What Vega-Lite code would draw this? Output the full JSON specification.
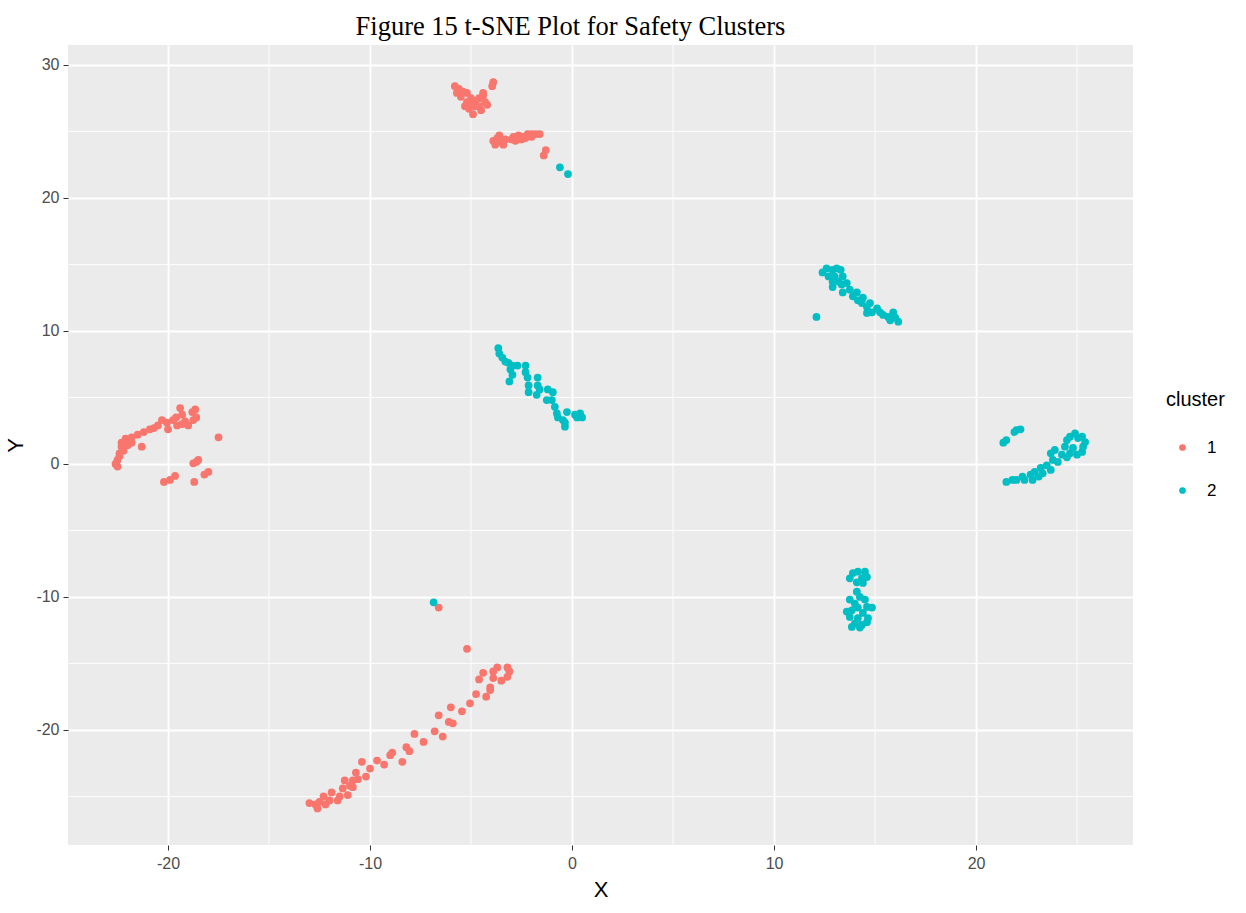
{
  "$schema": "https://vega.github.io/schema/vega-lite/v6.json",
  "width": 1065,
  "height": 800,
  "autosize": "none",
  "padding": {"left": 68, "top": 45, "right": 113, "bottom": 68},
  "background": "white",
  "title": {"text": "Figure 15 t-SNE Plot for Safety Clusters", "font": "Liberation Serif", "fontSize": 26.5, "fontWeight": "normal", "color": "#000000", "anchor": "middle", "dx": -30, "offset": 4},
  "config": {
    "view": {"fill": "#EBEBEB", "stroke": null},
    "axis": {"labelFont": "Liberation Sans", "titleFont": "Liberation Sans", "labelColor": "#4D4D4D", "titleColor": "#000000", "labelFontSize": 16, "titleFontSize": 22, "titleFontWeight": "normal", "tickColor": "#333333", "tickSize": 5, "domain": false, "gridColor": "#FFFFFF", "gridWidth": 1.8, "gridOpacity": 1, "labelExpr": "toString(datum.value)"},
    "legend": {"labelFont": "Liberation Sans", "titleFont": "Liberation Sans"}
  },
  "datasets": {
    "gx": [{"X": -15}, {"X": -5}, {"X": 5}, {"X": 15}, {"X": 25}],
    "gy": [{"Y": 25}, {"Y": 15}, {"Y": 5}, {"Y": -5}, {"Y": -15}, {"Y": -25}],
    "pts": [
      {"X": -5.8, "Y": 28.4, "cluster": "1"}, {"X": -5.6, "Y": 28.2, "cluster": "1"}, {"X": -5.4, "Y": 28.0, "cluster": "1"}, {"X": -5.2, "Y": 27.9, "cluster": "1"}, {"X": -5.5, "Y": 27.6, "cluster": "1"}, {"X": -5.0, "Y": 27.5, "cluster": "1"}, {"X": -4.8, "Y": 27.3, "cluster": "1"}, {"X": -4.6, "Y": 27.5, "cluster": "1"}, {"X": -4.4, "Y": 27.7, "cluster": "1"}, {"X": -4.3, "Y": 27.2, "cluster": "1"}, {"X": -4.8, "Y": 26.9, "cluster": "1"}, {"X": -5.1, "Y": 26.7, "cluster": "1"}, {"X": -4.5, "Y": 26.6, "cluster": "1"}, {"X": -4.9, "Y": 26.3, "cluster": "1"}, {"X": -5.3, "Y": 26.9, "cluster": "1"}, {"X": -4.2, "Y": 27.0, "cluster": "1"}, {"X": -4.6, "Y": 26.9, "cluster": "1"}, {"X": -5.2, "Y": 27.2, "cluster": "1"}, {"X": -4.95, "Y": 27.1, "cluster": "1"}, {"X": -4.4, "Y": 27.9, "cluster": "1"}, {"X": -5.7, "Y": 27.9, "cluster": "1"},
      {"X": -3.9, "Y": 28.7, "cluster": "1"}, {"X": -3.95, "Y": 28.4, "cluster": "1"},
      {"X": -3.9, "Y": 24.3, "cluster": "1"}, {"X": -3.7, "Y": 24.5, "cluster": "1"}, {"X": -3.5, "Y": 24.2, "cluster": "1"}, {"X": -3.8, "Y": 24.0, "cluster": "1"}, {"X": -3.4, "Y": 24.0, "cluster": "1"}, {"X": -3.6, "Y": 24.7, "cluster": "1"}, {"X": -3.3, "Y": 24.4, "cluster": "1"},
      {"X": -2.9, "Y": 24.6, "cluster": "1"}, {"X": -2.65, "Y": 24.7, "cluster": "1"}, {"X": -2.45, "Y": 24.6, "cluster": "1"}, {"X": -2.2, "Y": 24.8, "cluster": "1"}, {"X": -2.0, "Y": 24.8, "cluster": "1"}, {"X": -1.8, "Y": 24.8, "cluster": "1"}, {"X": -1.6, "Y": 24.8, "cluster": "1"}, {"X": -2.5, "Y": 24.4, "cluster": "1"}, {"X": -2.3, "Y": 24.5, "cluster": "1"}, {"X": -2.8, "Y": 24.3, "cluster": "1"}, {"X": -2.0, "Y": 24.6, "cluster": "1"}, {"X": -3.0, "Y": 24.4, "cluster": "1"},
      {"X": -1.3, "Y": 23.6, "cluster": "1"}, {"X": -1.4, "Y": 23.2, "cluster": "1"},
      {"X": -0.6, "Y": 22.3, "cluster": "2"}, {"X": -0.2, "Y": 21.8, "cluster": "2"},
      {"X": -22.5, "Y": -0.2, "cluster": "1"}, {"X": -22.5, "Y": 0.3, "cluster": "1"}, {"X": -22.4, "Y": 0.8, "cluster": "1"}, {"X": -22.3, "Y": 1.3, "cluster": "1"}, {"X": -22.1, "Y": 1.9, "cluster": "1"}, {"X": -22.0, "Y": 1.7, "cluster": "1"}, {"X": -21.8, "Y": 2.0, "cluster": "1"}, {"X": -21.5, "Y": 2.2, "cluster": "1"}, {"X": -21.3, "Y": 1.3, "cluster": "1"}, {"X": -21.2, "Y": 2.4, "cluster": "1"}, {"X": -20.9, "Y": 2.6, "cluster": "1"}, {"X": -20.5, "Y": 2.9, "cluster": "1"}, {"X": -20.3, "Y": 3.3, "cluster": "1"}, {"X": -20.05, "Y": 3.1, "cluster": "1"}, {"X": -20.0, "Y": 2.6, "cluster": "1"}, {"X": -19.75, "Y": 3.3, "cluster": "1"}, {"X": -19.55, "Y": 2.9, "cluster": "1"}, {"X": -19.4, "Y": 4.2, "cluster": "1"}, {"X": -19.3, "Y": 3.7, "cluster": "1"}, {"X": -19.15, "Y": 3.2, "cluster": "1"}, {"X": -19.0, "Y": 2.9, "cluster": "1"}, {"X": -18.75, "Y": 3.3, "cluster": "1"}, {"X": -18.65, "Y": 4.1, "cluster": "1"}, {"X": -18.6, "Y": 3.5, "cluster": "1"}, {"X": -17.5, "Y": 2.0, "cluster": "1"}, {"X": -18.75, "Y": 0.05, "cluster": "1"}, {"X": -18.5, "Y": 0.3, "cluster": "1"}, {"X": -18.6, "Y": 0.15, "cluster": "1"}, {"X": -18.2, "Y": -0.8, "cluster": "1"}, {"X": -18.0, "Y": -0.6, "cluster": "1"}, {"X": -18.7, "Y": -1.35, "cluster": "1"}, {"X": -20.2, "Y": -1.35, "cluster": "1"}, {"X": -19.9, "Y": -1.2, "cluster": "1"}, {"X": -19.65, "Y": -0.9, "cluster": "1"}, {"X": -22.4, "Y": 0.6, "cluster": "1"}, {"X": -22.2, "Y": 1.0, "cluster": "1"}, {"X": -22.0, "Y": 1.4, "cluster": "1"}, {"X": -21.8, "Y": 1.6, "cluster": "1"}, {"X": -22.6, "Y": 0.0, "cluster": "1"}, {"X": -22.3, "Y": 1.6, "cluster": "1"}, {"X": -20.7, "Y": 2.7, "cluster": "1"}, {"X": -19.6, "Y": 3.5, "cluster": "1"}, {"X": -19.3, "Y": 3.0, "cluster": "1"}, {"X": -18.8, "Y": 3.9, "cluster": "1"},
      {"X": -6.6, "Y": -10.8, "cluster": "1"}, {"X": -6.85, "Y": -10.4, "cluster": "2"}, {"X": -5.2, "Y": -13.9, "cluster": "1"},
      {"X": -3.7, "Y": -15.3, "cluster": "1"}, {"X": -3.2, "Y": -15.3, "cluster": "1"}, {"X": -3.1, "Y": -15.6, "cluster": "1"}, {"X": -3.9, "Y": -15.6, "cluster": "1"}, {"X": -3.9, "Y": -16.1, "cluster": "1"}, {"X": -3.5, "Y": -16.3, "cluster": "1"}, {"X": -3.2, "Y": -16.0, "cluster": "1"}, {"X": -4.4, "Y": -15.7, "cluster": "1"}, {"X": -4.6, "Y": -16.2, "cluster": "1"}, {"X": -4.05, "Y": -16.8, "cluster": "1"}, {"X": -4.05, "Y": -17.0, "cluster": "1"}, {"X": -4.75, "Y": -17.3, "cluster": "1"}, {"X": -4.25, "Y": -17.5, "cluster": "1"}, {"X": -5.05, "Y": -18.0, "cluster": "1"}, {"X": -5.45, "Y": -18.6, "cluster": "1"}, {"X": -6.0, "Y": -18.3, "cluster": "1"}, {"X": -6.1, "Y": -19.4, "cluster": "1"}, {"X": -5.9, "Y": -19.5, "cluster": "1"}, {"X": -6.6, "Y": -18.9, "cluster": "1"}, {"X": -6.4, "Y": -20.5, "cluster": "1"}, {"X": -6.8, "Y": -20.1, "cluster": "1"}, {"X": -7.35, "Y": -20.9, "cluster": "1"}, {"X": -7.8, "Y": -20.3, "cluster": "1"}, {"X": -8.2, "Y": -21.3, "cluster": "1"}, {"X": -8.05, "Y": -21.6, "cluster": "1"}, {"X": -8.4, "Y": -22.4, "cluster": "1"}, {"X": -8.9, "Y": -21.7, "cluster": "1"}, {"X": -9.0, "Y": -21.9, "cluster": "1"}, {"X": -9.3, "Y": -22.6, "cluster": "1"}, {"X": -9.65, "Y": -22.3, "cluster": "1"}, {"X": -10.0, "Y": -22.9, "cluster": "1"}, {"X": -10.2, "Y": -23.5, "cluster": "1"}, {"X": -10.4, "Y": -22.4, "cluster": "1"}, {"X": -10.7, "Y": -23.2, "cluster": "1"}, {"X": -10.85, "Y": -23.8, "cluster": "1"}, {"X": -10.85, "Y": -24.3, "cluster": "1"}, {"X": -11.25, "Y": -23.8, "cluster": "1"}, {"X": -11.35, "Y": -24.4, "cluster": "1"}, {"X": -11.5, "Y": -25.0, "cluster": "1"}, {"X": -11.9, "Y": -24.7, "cluster": "1"}, {"X": -12.0, "Y": -25.3, "cluster": "1"}, {"X": -12.3, "Y": -25.0, "cluster": "1"}, {"X": -12.5, "Y": -25.4, "cluster": "1"}, {"X": -12.7, "Y": -25.6, "cluster": "1"}, {"X": -13.0, "Y": -25.5, "cluster": "1"}, {"X": -12.6, "Y": -25.9, "cluster": "1"}, {"X": -12.2, "Y": -25.6, "cluster": "1"}, {"X": -11.6, "Y": -25.3, "cluster": "1"}, {"X": -11.1, "Y": -24.9, "cluster": "1"}, {"X": -11.0, "Y": -24.2, "cluster": "1"}, {"X": -10.6, "Y": -23.7, "cluster": "1"},
      {"X": -3.65, "Y": 8.7, "cluster": "2"}, {"X": -3.6, "Y": 8.3, "cluster": "2"}, {"X": -3.45, "Y": 8.0, "cluster": "2"}, {"X": -3.3, "Y": 7.7, "cluster": "2"}, {"X": -3.15, "Y": 7.6, "cluster": "2"}, {"X": -2.95, "Y": 7.4, "cluster": "2"}, {"X": -2.7, "Y": 7.4, "cluster": "2"}, {"X": -3.05, "Y": 7.1, "cluster": "2"}, {"X": -2.95, "Y": 6.7, "cluster": "2"}, {"X": -3.1, "Y": 6.2, "cluster": "2"}, {"X": -2.3, "Y": 7.4, "cluster": "2"}, {"X": -2.3, "Y": 6.9, "cluster": "2"}, {"X": -2.2, "Y": 6.5, "cluster": "2"}, {"X": -2.15, "Y": 5.9, "cluster": "2"}, {"X": -2.15, "Y": 5.4, "cluster": "2"}, {"X": -1.7, "Y": 6.5, "cluster": "2"}, {"X": -1.7, "Y": 5.9, "cluster": "2"}, {"X": -1.6, "Y": 5.6, "cluster": "2"}, {"X": -1.75, "Y": 5.2, "cluster": "2"}, {"X": -1.2, "Y": 5.6, "cluster": "2"}, {"X": -0.95, "Y": 5.4, "cluster": "2"}, {"X": -1.25, "Y": 4.8, "cluster": "2"}, {"X": -1.0, "Y": 4.8, "cluster": "2"}, {"X": -0.85, "Y": 4.3, "cluster": "2"}, {"X": -0.75, "Y": 3.8, "cluster": "2"}, {"X": -0.7, "Y": 3.5, "cluster": "2"}, {"X": -0.45, "Y": 3.3, "cluster": "2"}, {"X": -0.25, "Y": 3.9, "cluster": "2"}, {"X": -0.35, "Y": 2.8, "cluster": "2"}, {"X": -0.35, "Y": 3.1, "cluster": "2"}, {"X": 0.15, "Y": 3.7, "cluster": "2"}, {"X": 0.4, "Y": 3.8, "cluster": "2"}, {"X": 0.5, "Y": 3.5, "cluster": "2"}, {"X": 0.25, "Y": 3.5, "cluster": "2"},
      {"X": 12.1, "Y": 11.05, "cluster": "2"}, {"X": 12.4, "Y": 14.4, "cluster": "2"}, {"X": 12.6, "Y": 14.7, "cluster": "2"}, {"X": 12.9, "Y": 14.6, "cluster": "2"}, {"X": 13.1, "Y": 14.7, "cluster": "2"}, {"X": 13.3, "Y": 14.6, "cluster": "2"}, {"X": 12.7, "Y": 14.1, "cluster": "2"}, {"X": 12.9, "Y": 13.7, "cluster": "2"}, {"X": 13.0, "Y": 14.1, "cluster": "2"}, {"X": 13.2, "Y": 13.7, "cluster": "2"}, {"X": 13.4, "Y": 14.1, "cluster": "2"}, {"X": 12.9, "Y": 13.3, "cluster": "2"}, {"X": 13.35, "Y": 13.5, "cluster": "2"}, {"X": 13.6, "Y": 13.6, "cluster": "2"}, {"X": 13.4, "Y": 12.9, "cluster": "2"}, {"X": 13.75, "Y": 13.1, "cluster": "2"}, {"X": 13.9, "Y": 12.6, "cluster": "2"}, {"X": 14.1, "Y": 12.9, "cluster": "2"}, {"X": 14.15, "Y": 12.3, "cluster": "2"}, {"X": 14.35, "Y": 12.1, "cluster": "2"}, {"X": 14.6, "Y": 11.8, "cluster": "2"}, {"X": 14.75, "Y": 12.1, "cluster": "2"}, {"X": 14.85, "Y": 11.4, "cluster": "2"}, {"X": 15.1, "Y": 11.7, "cluster": "2"}, {"X": 15.25, "Y": 11.4, "cluster": "2"}, {"X": 15.4, "Y": 11.2, "cluster": "2"}, {"X": 15.65, "Y": 11.05, "cluster": "2"}, {"X": 15.9, "Y": 11.4, "cluster": "2"}, {"X": 16.0, "Y": 11.0, "cluster": "2"}, {"X": 16.15, "Y": 10.7, "cluster": "2"}, {"X": 15.75, "Y": 10.8, "cluster": "2"}, {"X": 14.4, "Y": 12.5, "cluster": "2"}, {"X": 14.6, "Y": 11.35, "cluster": "2"},
      {"X": 21.35, "Y": 1.6, "cluster": "2"}, {"X": 21.5, "Y": 1.8, "cluster": "2"}, {"X": 21.9, "Y": 2.4, "cluster": "2"}, {"X": 22.2, "Y": 2.6, "cluster": "2"}, {"X": 22.0, "Y": 2.55, "cluster": "2"}, {"X": 21.5, "Y": -1.35, "cluster": "2"}, {"X": 21.8, "Y": -1.2, "cluster": "2"}, {"X": 22.0, "Y": -1.2, "cluster": "2"}, {"X": 22.3, "Y": -0.95, "cluster": "2"}, {"X": 22.4, "Y": -1.2, "cluster": "2"}, {"X": 22.7, "Y": -0.8, "cluster": "2"}, {"X": 22.8, "Y": -1.2, "cluster": "2"}, {"X": 22.9, "Y": -0.6, "cluster": "2"}, {"X": 23.1, "Y": -0.95, "cluster": "2"}, {"X": 23.2, "Y": -0.3, "cluster": "2"}, {"X": 23.3, "Y": -0.7, "cluster": "2"}, {"X": 23.5, "Y": -0.1, "cluster": "2"}, {"X": 23.7, "Y": -0.45, "cluster": "2"}, {"X": 23.7, "Y": 0.8, "cluster": "2"}, {"X": 23.8, "Y": 0.3, "cluster": "2"}, {"X": 23.9, "Y": 1.05, "cluster": "2"}, {"X": 24.05, "Y": 0.15, "cluster": "2"}, {"X": 24.25, "Y": 0.7, "cluster": "2"}, {"X": 24.4, "Y": 1.3, "cluster": "2"}, {"X": 24.5, "Y": 1.8, "cluster": "2"}, {"X": 24.65, "Y": 2.05, "cluster": "2"}, {"X": 24.9, "Y": 2.3, "cluster": "2"}, {"X": 25.05, "Y": 1.95, "cluster": "2"}, {"X": 25.25, "Y": 2.05, "cluster": "2"}, {"X": 25.4, "Y": 1.65, "cluster": "2"}, {"X": 25.3, "Y": 1.3, "cluster": "2"}, {"X": 25.25, "Y": 0.9, "cluster": "2"}, {"X": 25.0, "Y": 0.7, "cluster": "2"}, {"X": 24.8, "Y": 1.2, "cluster": "2"}, {"X": 24.65, "Y": 0.8, "cluster": "2"}, {"X": 24.5, "Y": 0.5, "cluster": "2"},
      {"X": 13.75, "Y": -8.6, "cluster": "2"}, {"X": 13.9, "Y": -8.2, "cluster": "2"}, {"X": 14.15, "Y": -8.1, "cluster": "2"}, {"X": 14.5, "Y": -8.1, "cluster": "2"}, {"X": 14.35, "Y": -8.6, "cluster": "2"}, {"X": 14.6, "Y": -8.5, "cluster": "2"}, {"X": 14.4, "Y": -8.95, "cluster": "2"}, {"X": 14.1, "Y": -8.9, "cluster": "2"}, {"X": 14.1, "Y": -9.6, "cluster": "2"}, {"X": 14.25, "Y": -10.0, "cluster": "2"}, {"X": 13.75, "Y": -10.2, "cluster": "2"}, {"X": 14.0, "Y": -10.5, "cluster": "2"}, {"X": 14.5, "Y": -10.2, "cluster": "2"}, {"X": 14.15, "Y": -10.8, "cluster": "2"}, {"X": 13.6, "Y": -11.1, "cluster": "2"}, {"X": 13.85, "Y": -11.0, "cluster": "2"}, {"X": 14.6, "Y": -10.75, "cluster": "2"}, {"X": 14.85, "Y": -10.8, "cluster": "2"}, {"X": 14.4, "Y": -11.2, "cluster": "2"}, {"X": 13.75, "Y": -11.5, "cluster": "2"}, {"X": 14.15, "Y": -11.6, "cluster": "2"}, {"X": 14.65, "Y": -11.6, "cluster": "2"}, {"X": 14.0, "Y": -12.0, "cluster": "2"}, {"X": 14.35, "Y": -12.1, "cluster": "2"}, {"X": 13.85, "Y": -12.25, "cluster": "2"}, {"X": 14.25, "Y": -12.3, "cluster": "2"}, {"X": 14.6, "Y": -11.9, "cluster": "2"}
    ]
  },
  "layer": [
    {
      "data": {"name": "gx"},
      "mark": {"type": "rule", "color": "#FFFFFF", "strokeWidth": 0.9},
      "encoding": {
        "x": {"field": "X", "type": "quantitative", "scale": {"domain": [-24.95, 27.77], "nice": false, "zero": false}}
      }
    },
    {
      "data": {"name": "gy"},
      "mark": {"type": "rule", "color": "#FFFFFF", "strokeWidth": 0.9},
      "encoding": {
        "y": {"field": "Y", "type": "quantitative", "scale": {"domain": [-28.65, 31.5], "nice": false, "zero": false}}
      }
    },
    {
      "data": {"name": "pts"},
      "mark": {"type": "point", "filled": true, "size": 60, "opacity": 1, "strokeWidth": 0},
      "encoding": {
        "x": {"field": "X", "type": "quantitative", "scale": {"domain": [-24.95, 27.77], "nice": false, "zero": false}, "axis": {"title": "X", "values": [-20, -10, 0, 10, 20], "labelPadding": 5, "titlePadding": 8}},
        "y": {"field": "Y", "type": "quantitative", "scale": {"domain": [-28.65, 31.5], "nice": false, "zero": false}, "axis": {"title": "Y", "values": [-20, -10, 0, 10, 20, 30], "labelPadding": 4, "titlePadding": 8}},
        "color": {"field": "cluster", "type": "nominal", "scale": {"domain": ["1", "2"], "range": ["#F8766D", "#00BFC4"]}, "legend": {"title": "cluster", "orient": "none", "legendX": 1098, "legendY": 345, "titleFontSize": 20, "titleFontWeight": "normal", "titleColor": "#000000", "labelFontSize": 17, "labelColor": "#000000", "symbolType": "circle", "symbolSize": 45, "symbolStrokeWidth": 0, "symbolOffset": 8, "rowPadding": 25, "labelOffset": 16, "titlePadding": 29, "padding": 0}}
      }
    }
  ]
}
